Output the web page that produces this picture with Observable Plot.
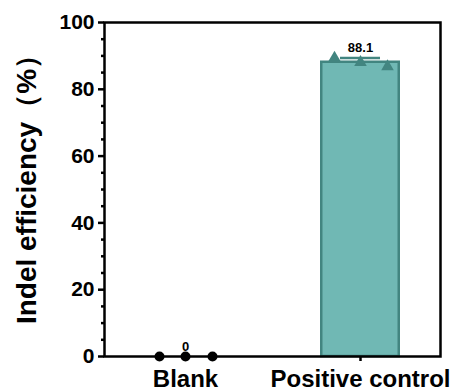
<!DOCTYPE html>
<html><head><meta charset="utf-8">
<script src="https://cdn.jsdelivr.net/npm/d3@7"></script>
<script src="https://cdn.jsdelivr.net/npm/@observablehq/plot@0.6"></script>
<style>body{margin:0;background:#fff}</style>
</head><body><div id="chart"></div>
<script>
const groups = ["Blank", "Positive control"];
const means = [0, 88.1];
const sds = [0, 1.3];
const labels = ["0", "88.1"];
const replicates = [[0, 0, 0], [89.4, 88.1, 86.8]];
const yMajor = [0, 20, 40, 60, 80, 100];
const yMinor = [5, 10, 15, 25, 30, 35, 45, 50, 55, 65, 70, 75, 85, 90, 95];

const bars = groups.map((g, i) => ({group: g, mean: means[i], sd: sds[i], top: means[i] + sds[i], label: labels[i]}));
const pts = [];
groups.forEach((g, i) => replicates[i].forEach((v, k) => pts.push({group: g, value: v, rep: k})));
const offsets = [-26, 0, 27];

const teal = "#70b8b4", tealDark = "#428580";
const font = "Liberation Sans, Arial, sans-serif";

const marks = [
  Plot.barY(bars.filter(d => d.mean > 0), {x: "group", y: "mean", fill: teal, stroke: tealDark, strokeWidth: 2.5, insetLeft: 1.25, insetRight: 1.25}),
  Plot.ruleX(bars.filter(d => d.sd > 0), {x: "group", y1: "mean", y2: "top", stroke: tealDark, strokeWidth: 2.5}),
  Plot.tickY(bars.filter(d => d.sd > 0), {x: "group", y: "top", stroke: tealDark, strokeWidth: 2.5, insetLeft: 20, insetRight: 20}),
  Plot.axisY({ticks: yMinor, tickSize: 3, tickFormat: null, strokeWidth: 2.5, text: null, label: null}),
  Plot.axisY({ticks: yMajor, tickSize: 6, tickPadding: 4, strokeWidth: 2.5, fontSize: 21, fontWeight: "bold", label: null}),
  Plot.axisX({tickSize: 5, tickPadding: 8, strokeWidth: 2.5, fontSize: 24, fontWeight: "bold", label: null}),
  Plot.frame({stroke: "#000", strokeWidth: 2.5}),
  Plot.text(["Indel efficiency（%）"], {frameAnchor: "left", textAnchor: "middle", dx: -77, dy: -7, rotate: -90, fontSize: 28, fontWeight: "bold", fill: "#000"}),
  Plot.text(bars, {x: "group", y: "top", text: "label", lineAnchor: "bottom", dy: -6, fontSize: 13, fontWeight: "bold", fill: "#000"})
];
offsets.forEach((off, k) => {
  marks.push(Plot.dot(pts.filter(d => d.rep === k && d.group === "Blank"), {x: "group", y: "value", dx: off, r: 5, fill: "#000", symbol: "circle"}));
  marks.push(Plot.dot(pts.filter(d => d.rep === k && d.group === "Positive control"), {x: "group", y: "value", dx: off, r: 6, fill: tealDark, symbol: "triangle2"}));
});

const chart = Plot.plot({
  width: 453, height: 391,
  marginLeft: 104, marginRight: 13, marginTop: 22, marginBottom: 35,
  style: {fontFamily: font, color: "#000", background: "#fff", overflow: "visible"},
  x: {domain: groups, paddingInner: 0.543, paddingOuter: 0.23},
  y: {domain: [0, 100]},
  marks
});
document.getElementById("chart").appendChild(chart);
</script></body></html>
